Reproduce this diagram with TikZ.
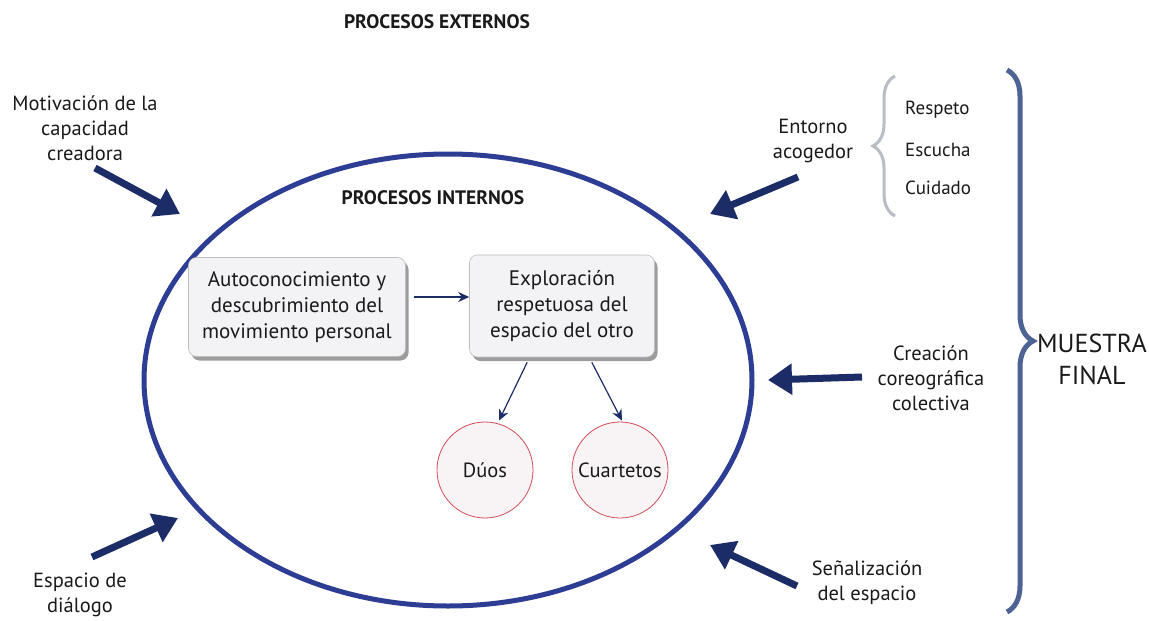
\documentclass[tikz,border=0pt]{standalone}
\usepackage{fontspec}
\setmainfont{PT Sans}
\usetikzlibrary{arrows.meta,shadows,decorations.pathreplacing,shapes.geometric}
\definecolor{ellblue}{HTML}{2E3D94}
\definecolor{navy}{HTML}{1C2C66}
\definecolor{bracegray}{HTML}{B8BCC4}
\definecolor{braceblue}{HTML}{4C6394}
\definecolor{boxfill}{HTML}{F3F3F6}
\definecolor{circred}{HTML}{D24A5A}
\definecolor{circfill}{HTML}{F8F4F5}
\definecolor{txt}{HTML}{1A1A1A}
\begin{document}
\begin{tikzpicture}[x=1pt,y=-1pt,
  lbl/.style={align=center,text=txt,font=\fontsize{20.5}{25}\selectfont,inner sep=0pt},
  ttl/.style={text=txt,font=\bfseries\fontsize{19.5}{22}\selectfont,inner sep=0pt},
  item/.style={text=txt,font=\fontsize{19}{22}\selectfont,inner sep=0pt,anchor=west},
  procbox/.style={draw=black!25,line width=0.6pt,fill=boxfill,rounded corners=8pt,align=center,
    text=txt,font=\fontsize{21}{26}\selectfont,
    drop shadow={shadow xshift=3pt,shadow yshift=-4pt,opacity=0.55,fill=black!70}},
  grp/.style={circle,draw=circred,line width=0.8pt,fill=circfill,minimum size=96pt,inner sep=0pt,
    text=txt,font=\fontsize{20.5}{24}\selectfont},
  bigarrow/.style={navy,line width=7pt,-{Triangle[length=24pt,width=30pt]}},
  thinarrow/.style={navy,line width=1.2pt,-{Stealth[length=11pt,width=10pt]}}
]
\useasboundingbox (0,0) rectangle (1149,621);
\fill[white] (0,0) rectangle (1149,621);

\node[ttl] (pext) at (437,22) {PROCESOS EXTERNOS};
\node[ellipse,draw=ellblue,line width=5pt,minimum width=608pt,minimum height=452pt,inner sep=0pt] (ell) at (448,380) {};
\node[ttl] (pint) at (433,198) {PROCESOS INTERNOS};

\node[procbox,minimum width=217pt,minimum height=99pt] (b1) at (297,307) {Autoconocimiento y\\descubrimiento del\\movimiento personal};
\node[procbox,minimum width=185pt,minimum height=102pt] (b2) at (562,306) {Exploración\\respetuosa del\\espacio del otro};
\coordinate (a1s) at ([xshift=8pt,yshift=10pt]b1.east);
\draw[thinarrow] (a1s) -- (b2.west |- a1s);

\node[grp] (duos) at (485,470) {Dúos};
\node[grp] (cuar) at (620,470) {Cuartetos};
\coordinate (d1s) at ([xshift=58pt,yshift=-5pt]b2.south west);
\coordinate (d1e) at ([xshift=14pt,yshift=1pt]duos.north);
\coordinate (d2s) at ([xshift=-63pt,yshift=-5pt]b2.south east);
\coordinate (d2e) at ([xshift=2pt,yshift=1pt]cuar.north);
\draw[thinarrow] (d1s) -- (d1e);
\draw[thinarrow] (d2s) -- (d2e);

% external labels
\node[lbl] (mot) at (85,128) {Motivación de la\\capacidad\\creadora};
\node[lbl] (dia) at (80,595) {Espacio de\\diálogo};
\node[lbl] (ent) at (813,141) {Entorno\\acogedor};
\node[lbl] (cre) at (931,378) {Creación\\coreográfica\\colectiva};
\node[lbl] (sen) at (867,583) {Señalización\\del espacio};

\coordinate (m1) at (95,168);  \coordinate (m2) at (180,214);
\coordinate (e1) at (92,557);  \coordinate (e2) at (178,518);
\coordinate (n1) at (798,177); \coordinate (n2) at (710,214);
\coordinate (c1) at (862,377); \coordinate (c2) at (768,380);
\coordinate (s1) at (797,586); \coordinate (s2) at (710,545);
\draw[bigarrow] (m1) -- (m2);
\draw[bigarrow] (e1) -- (e2);
\draw[bigarrow] (n1) -- (n2);
\draw[bigarrow] (c1) -- (c2);
\draw[bigarrow] (s1) -- (s2);

% gray brace and items
\draw[bracegray,line width=3pt,decorate,decoration={brace,amplitude=22pt}] (895,216) -- (895,76);
\node[item] (res) at (905,110) {Respeto};
\node[item] (esc) at (905,150) {Escucha};
\node[item] (cui) at (905,188) {Cuidado};

% big brace
\draw[braceblue,line width=5pt,decorate,decoration={brace,amplitude=26pt}] (1007,70) -- (1007,612);
\node[align=center,text=txt,font=\fontsize{26}{32}\selectfont,inner sep=0pt] (mf) at (1092,359) {MUESTRA\\FINAL};
\end{tikzpicture}
\end{document}
